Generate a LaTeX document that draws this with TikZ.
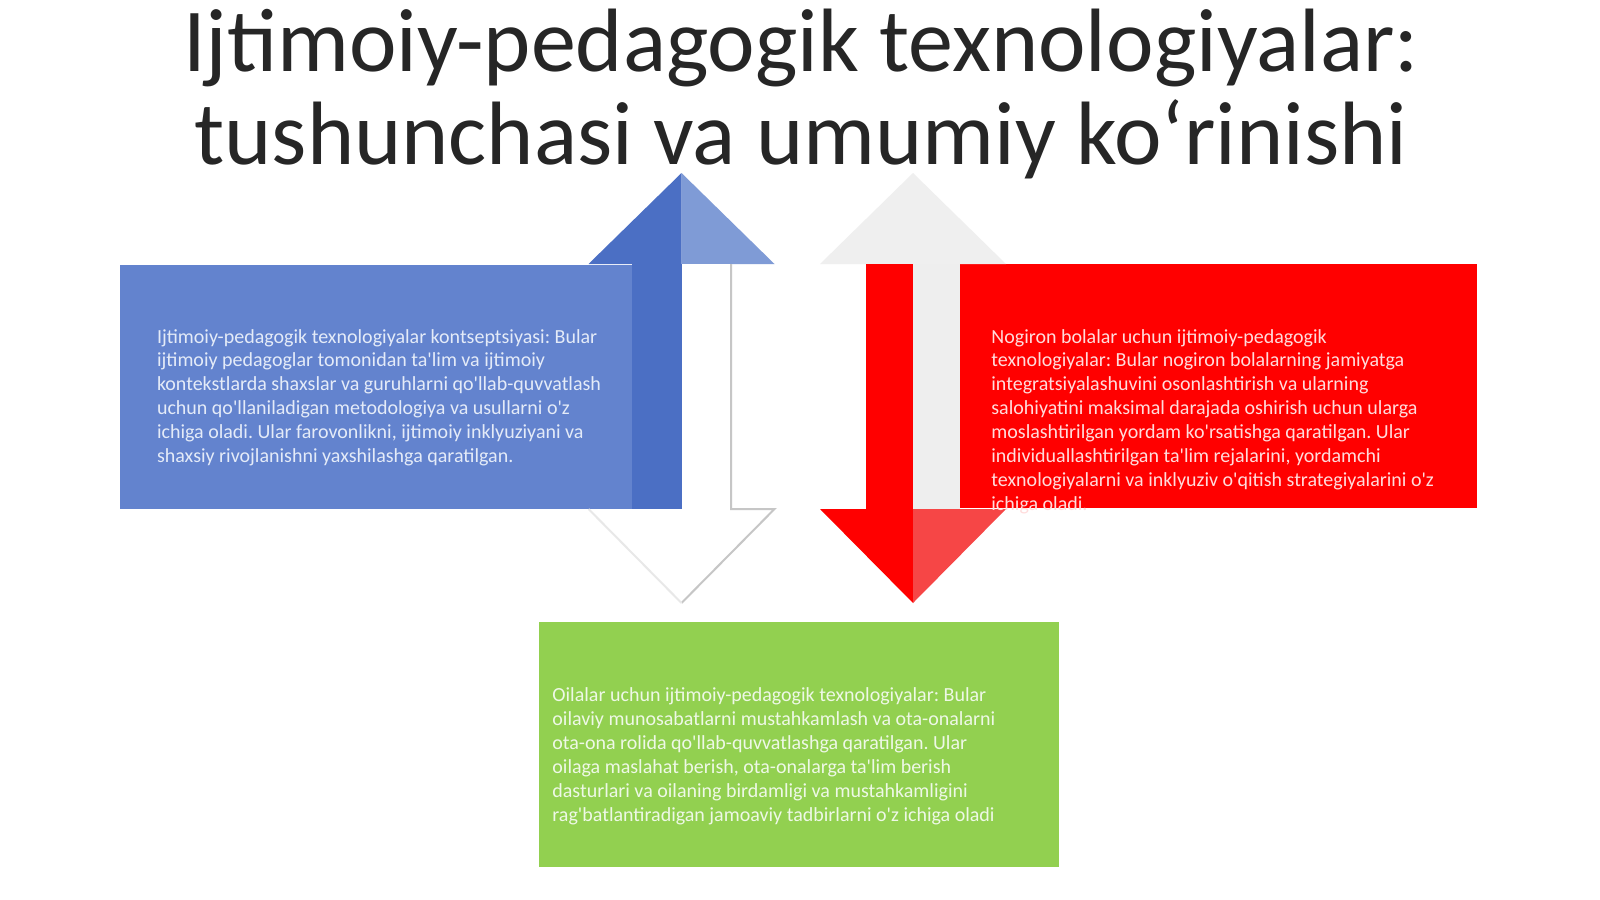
\documentclass[tikz,border=0pt]{standalone}
\usepackage{fontspec}
\setmainfont{Carlito}[Ligatures=TeXOff]
\usepackage{xcolor}
\usepackage{tikz}
\usetikzlibrary{positioning}
\frenchspacing

\definecolor{sarlavharang}{HTML}{262626}
\definecolor{kok}{HTML}{6383CE}
\definecolor{kokTim}{HTML}{4B6FC4}
\definecolor{kokOch}{HTML}{7F9BD6}
\definecolor{kokmatnrang}{HTML}{E4EBF8}
\definecolor{qizil}{HTML}{FF0000}
\definecolor{qizilOch}{HTML}{F64646}
\definecolor{qizilmatnrang}{HTML}{FFDCDC}
\definecolor{kulrang}{HTML}{EFEFEF}
\definecolor{kulrangOch}{HTML}{EEEEEE}
\definecolor{yashil}{HTML}{92D050}
\definecolor{yashilmatnrang}{HTML}{EEF8E6}

\begin{document}
\begin{tikzpicture}[x=0.5pt,y=-0.5pt,
   sarlavha/.style={text width=700pt,align=flush center,inner sep=0pt,text=sarlavharang,
     font=\fontsize{45}{46.5}\selectfont},
   rangli quti/.style={anchor=north west,inner sep=0pt,minimum height=122pt},
   quti matni/.style={inner sep=0pt,text width=250pt,align=flush left,
     font=\fontsize{10}{11.95}\selectfont}]

  \useasboundingbox (0,0) rectangle (1600,899);
  \fill[white] (0,0) rectangle (1600,899);

  % boxes
  \node[rangli quti,fill=kok,minimum width=281pt] (kok) at (120,265) {};
  \node[rangli quti,fill=qizil,minimum width=258.5pt] (qizil) at (960,264) {};
  \node[rangli quti,fill=yashil,minimum width=260pt,minimum height=122.5pt] (yashil) at (539,622) {};

  % arrows
  \foreach \cx/\sw/\ua/\ub/\sa/\sb/\da/\db in {681.5/49.5/kokTim/kokOch/kokTim/white/white/white,
      913/47/kulrang/kulrang/qizil/kulrangOch/qizil/qizilOch}
  {
    \fill[\ua] (\cx-93,264) -- (\cx,173) -- (\cx,264) -- cycle;
    \fill[\ub] (\cx,173) -- (\cx+93,264) -- (\cx,264) -- cycle;
    \fill[\sa] (\cx-\sw,264) rectangle (\cx,509);
    \fill[\sb] (\cx,264) rectangle (\cx+\sw,509);
    \fill[\da] (\cx-93,509) -- (\cx,509) -- (\cx,603) -- cycle;
    \fill[\db] (\cx,509) -- (\cx+93,509) -- (\cx,603) -- cycle;
  }
  \draw[gray!45,line width=1pt] (731,264) -- (731,509) -- (774.5,509) -- (681.5,603);
  \draw[gray!18,line width=1pt] (588.5,509) -- (681.5,603);

  % texts
  \node[quti matni,text=kokmatnrang,below right=39pt and 18.3pt of kok.north west,anchor=base west] (kokmatn)
    {Ijtimoiy-pedagogik texnologiyalar kontseptsiyasi: Bular\\
     ijtimoiy pedagoglar tomonidan ta'lim va ijtimoiy\\
     kontekstlarda shaxslar va guruhlarni qo'llab-quvvatlash\\
     uchun qo'llaniladigan metodologiya va usullarni o'z\\
     ichiga oladi. Ular farovonlikni, ijtimoiy inklyuziyani va\\
     shaxsiy rivojlanishni yaxshilashga qaratilgan.};
  \node[quti matni,text=qizilmatnrang,below right=39.5pt and 15.5pt of qizil.north west,anchor=base west] (qizilmatn)
    {Nogiron bolalar uchun ijtimoiy-pedagogik\\
     texnologiyalar: Bular nogiron bolalarning jamiyatga\\
     integratsiyalashuvini osonlashtirish va ularning\\
     salohiyatini maksimal darajada oshirish uchun ularga\\
     moslashtirilgan yordam ko'rsatishga qaratilgan. Ular\\
     individuallashtirilgan ta'lim rejalarini, yordamchi\\
     texnologiyalarni va inklyuziv o'qitish strategiyalarini o'z\\
     ichiga oladi.};
  \node[quti matni,text=yashilmatnrang,below right=39.8pt and 6.5pt of yashil.north west,anchor=base west] (yashilmatn)
    {Oilalar uchun ijtimoiy-pedagogik texnologiyalar: Bular\\
     oilaviy munosabatlarni mustahkamlash va ota-onalarni\\
     ota-ona rolida qo'llab-quvvatlashga qaratilgan. Ular\\
     oilaga maslahat berish, ota-onalarga ta'lim berish\\
     dasturlari va oilaning birdamligi va mustahkamligini\\
     rag'batlantiradigan jamoaviy tadbirlarni o'z ichiga oladi};

  \node[sarlavha,anchor=base] (sarlavha) at (801,72)
    {Ijtimoiy-pedagogik texnologiyalar:\\tushunchasi va umumiy ko‘rinishi};
\end{tikzpicture}
\end{document}
